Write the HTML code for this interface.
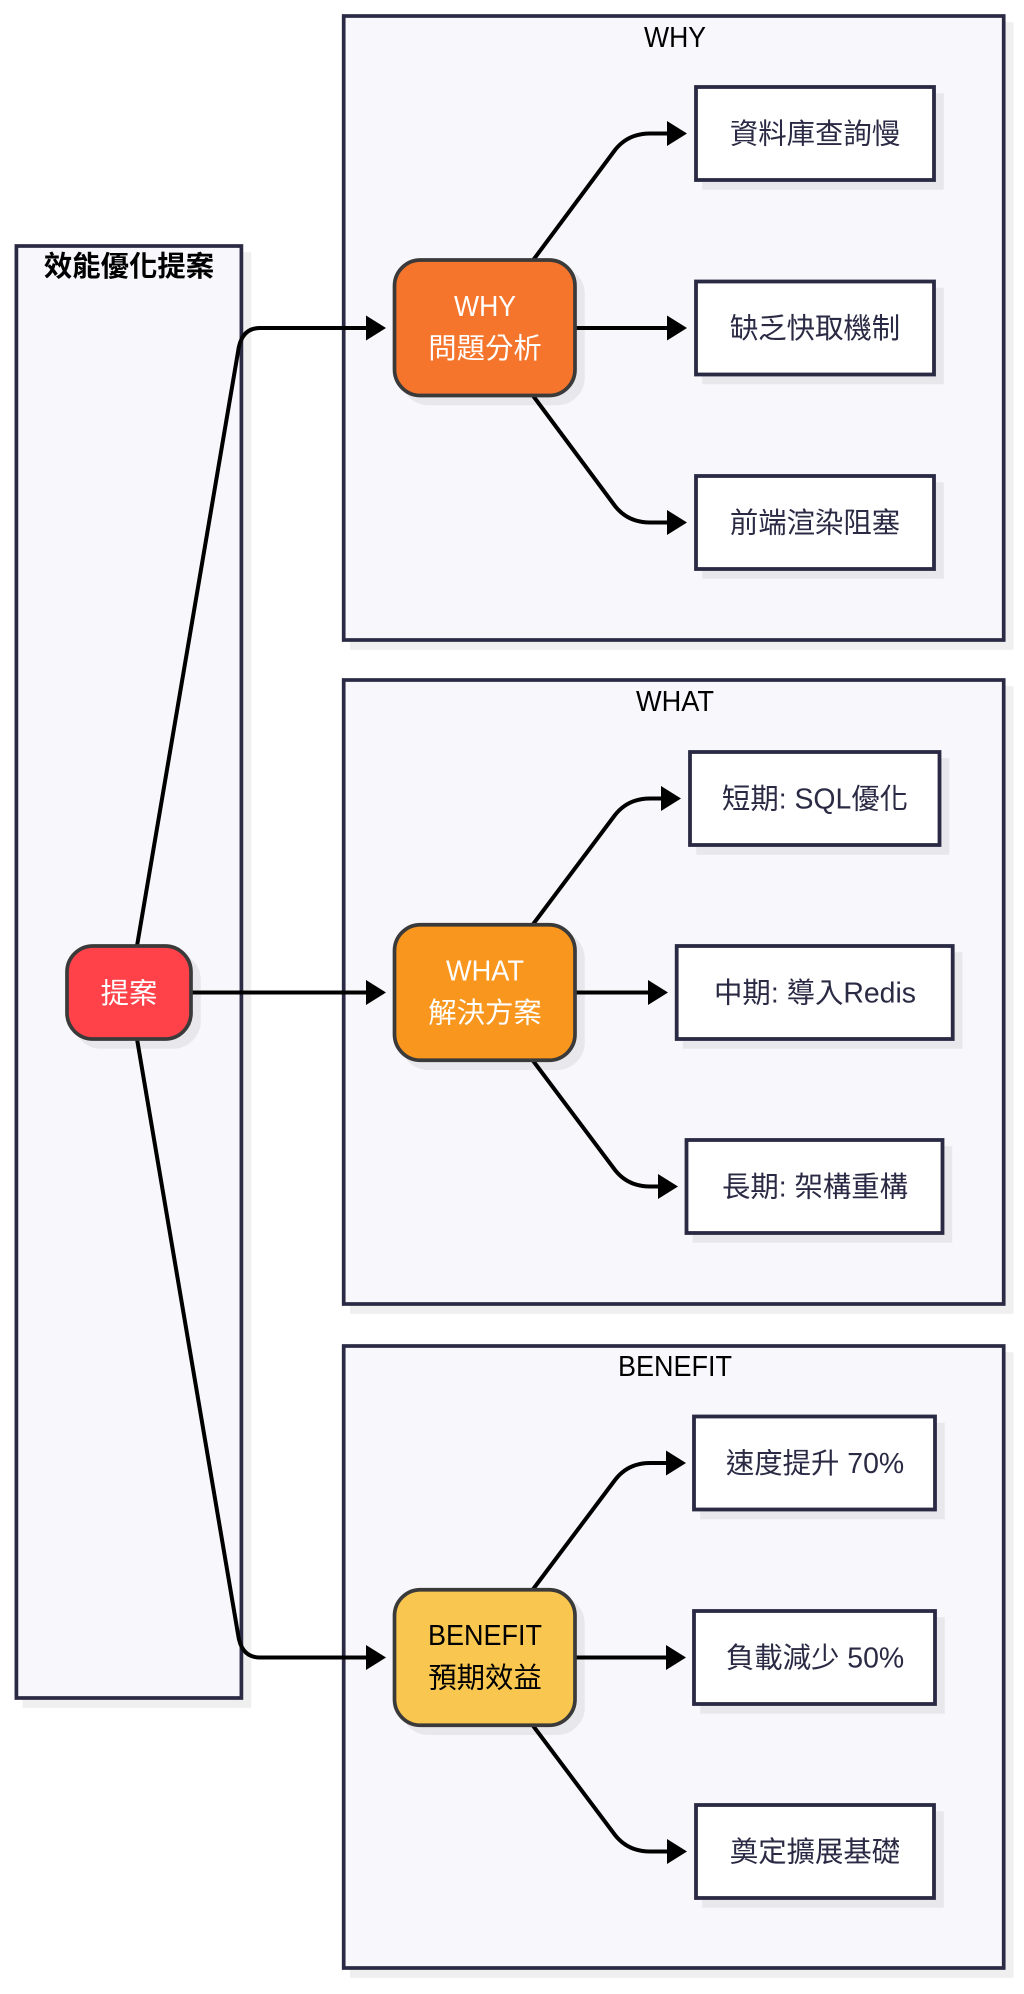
<!DOCTYPE html>
<html><head><meta charset="utf-8"><style>
html,body{margin:0;padding:0;background:#fff}
svg{display:block}
text{font-family:"Liberation Sans","Noto Sans CJK TC",sans-serif;font-size:28.4px;text-anchor:middle}
.t{fill:#000}
.i{fill:#2a2a44}
.w{fill:#fff}
.k{fill:#000}
.s{fill:#000;stroke:#000;stroke-width:3.6;opacity:.06;transform:translate(-1px,-1px)}
.c{fill:#f8f8fc;stroke:#2a2a44;stroke-width:3.7}
.b{fill:#fff;stroke:#2a2a44;stroke-width:3.8}
.n{stroke:#3a3a3a;stroke-width:3.7}
.e{fill:none;stroke:#000;stroke-width:4}
.a{fill:#000}
</style></head><body>
<svg width="1024" height="1994" viewBox="0 0 1024 1994" xmlns="http://www.w3.org/2000/svg">
<rect width="1024" height="1994" fill="#fff"/>
<!-- clusters -->
<rect class="s" x="25.4" y="255" width="225" height="1452"/>
<rect class="c" x="16.4" y="246" width="225" height="1452"/>
<rect class="s" x="352.7" y="25" width="660" height="624"/>
<rect class="c" x="343.7" y="16" width="660" height="624"/>
<rect class="s" x="352.7" y="689" width="660" height="624"/>
<rect class="c" x="343.7" y="680" width="660" height="624"/>
<rect class="s" x="352.7" y="1355" width="660" height="622"/>
<rect class="c" x="343.7" y="1346" width="660" height="622"/>
<text class="t" x="129" y="276" font-weight="700">效能優化提案</text>
<text class="t" x="675" y="47" textLength="62" lengthAdjust="spacingAndGlyphs">WHY</text>
<text class="t" x="675" y="711" textLength="78" lengthAdjust="spacingAndGlyphs">WHAT</text>
<text class="t" x="675" y="1376" textLength="114" lengthAdjust="spacingAndGlyphs">BENEFIT</text>
<!-- shadows of nodes -->
<rect class="s" x="76" y="955" width="124" height="93" rx="26"/>
<rect class="s" x="403.5" y="269" width="180.5" height="135.5" rx="26"/>
<rect class="s" x="403.5" y="933.75" width="180.5" height="135.5" rx="26"/>
<rect class="s" x="403.5" y="1598.75" width="180.5" height="135.5" rx="26"/>
<rect class="s" x="705" y="96" width="238" height="93"/>
<rect class="s" x="705" y="290.5" width="238" height="93"/>
<rect class="s" x="705" y="485" width="238" height="93"/>
<rect class="s" x="699" y="761" width="249.5" height="93"/>
<rect class="s" x="685.7" y="955" width="276" height="93"/>
<rect class="s" x="695.5" y="1149" width="256" height="93"/>
<rect class="s" x="703" y="1425.5" width="241" height="93"/>
<rect class="s" x="703" y="1620" width="241" height="93"/>
<rect class="s" x="705" y="1814" width="238" height="93"/>
<!-- edges -->
<path class="e" d="M137 946 L238 352 Q241 328 260 328 L368 328"/>
<path class="a" d="M366 315.5 L386 328 L366 340.5 Z"/>
<path class="e" d="M191 992.5 L368 992.5"/>
<path class="a" d="M366 980 L386 992.5 L366 1005 Z"/>
<path class="e" d="M137 1039 L238 1634 Q241 1657.5 260 1657.5 L368 1657.5"/>
<path class="a" d="M366 1645 L386 1657.5 L366 1670 Z"/>

<path class="e" d="M532.5 261 L615 150 Q628 133.5 650 133.5 L669 133.5"/>
<path class="a" d="M667 121 L687 133.5 L667 146 Z"/>
<path class="e" d="M575 328 L669 328"/>
<path class="a" d="M667 315.5 L687 328 L667 340.5 Z"/>
<path class="e" d="M532.5 395 L615 506 Q628 522.5 650 522.5 L669 522.5"/>
<path class="a" d="M667 510 L687 522.5 L667 535 Z"/>

<path class="e" d="M532.5 925 L615 815 Q628 798.5 650 798.5 L663 798.5"/>
<path class="a" d="M661 786 L681 798.5 L661 811 Z"/>
<path class="e" d="M575 992.5 L650 992.5"/>
<path class="a" d="M648 980 L668 992.5 L648 1005 Z"/>
<path class="e" d="M532.5 1060 L615 1170 Q628 1186.5 650 1186.5 L660 1186.5"/>
<path class="a" d="M658 1174 L678 1186.5 L658 1199 Z"/>

<path class="e" d="M532.5 1590 L615 1480 Q628 1463 650 1463 L668 1463"/>
<path class="a" d="M666 1450.5 L686 1463 L666 1475.5 Z"/>
<path class="e" d="M575 1657.5 L668 1657.5"/>
<path class="a" d="M666 1645 L686 1657.5 L666 1670 Z"/>
<path class="e" d="M532.5 1725 L615 1835 Q628 1851.5 650 1851.5 L669 1851.5"/>
<path class="a" d="M667 1839 L687 1851.5 L667 1864 Z"/>
<!-- main nodes -->
<rect class="n" fill="#ff4249" x="67" y="946" width="124" height="93" rx="26"/>
<text class="w" x="129" y="1003">提案</text>
<rect class="n" fill="#f4752b" x="394.5" y="260" width="180.5" height="135.5" rx="26"/>
<text class="w" x="485" y="316" textLength="62" lengthAdjust="spacingAndGlyphs">WHY</text>
<text class="w" x="485" y="358">問題分析</text>
<rect class="n" fill="#f9961e" x="394.5" y="924.75" width="180.5" height="135.5" rx="26"/>
<text class="w" x="485" y="980.5" textLength="78" lengthAdjust="spacingAndGlyphs">WHAT</text>
<text class="w" x="485" y="1022.5">解決方案</text>
<rect class="n" fill="#f9c74f" x="394.5" y="1589.75" width="180.5" height="135.5" rx="26"/>
<text class="k" x="485" y="1645" textLength="114" lengthAdjust="spacingAndGlyphs">BENEFIT</text>
<text class="k" x="485" y="1687.5">預期效益</text>
<!-- item nodes -->
<rect class="b" x="696" y="87" width="238" height="93"/>
<text class="i" x="815" y="143.5">資料庫查詢慢</text>
<rect class="b" x="696" y="281.5" width="238" height="93"/>
<text class="i" x="815" y="338">缺乏快取機制</text>
<rect class="b" x="696" y="476" width="238" height="93"/>
<text class="i" x="815" y="532.5">前端渲染阻塞</text>

<rect class="b" x="690" y="752" width="249.5" height="93"/>
<text class="i" x="815" y="808.5">短期: SQL優化</text>
<rect class="b" x="676.7" y="946" width="276" height="93"/>
<text class="i" x="815" y="1002.5">中期: 導入Redis</text>
<rect class="b" x="686.5" y="1140" width="256" height="93"/>
<text class="i" x="815" y="1196.5">長期: 架構重構</text>

<rect class="b" x="694" y="1416.5" width="241" height="93"/>
<text class="i" x="815" y="1473">速度提升 70%</text>
<rect class="b" x="694" y="1611" width="241" height="93"/>
<text class="i" x="815" y="1667.5">負載減少 50%</text>
<rect class="b" x="696" y="1805" width="238" height="93"/>
<text class="i" x="815" y="1861.5">奠定擴展基礎</text>
</svg>
</body></html>
